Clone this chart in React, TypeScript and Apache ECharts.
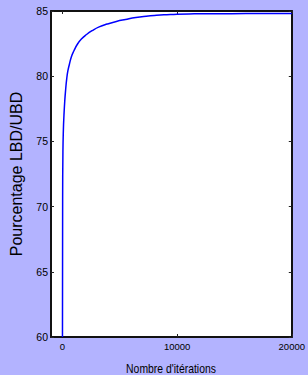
import React, { useEffect, useRef } from "react";
import * as echarts from "echarts";

const iterations = [0, 15, 40, 80, 130, 200, 280, 370, 470, 600, 780, 1000, 1300, 1650, 2100, 2600, 3200, 3900, 4700, 5500, 6400, 7300, 8200, 9100, 10000, 11500, 13500, 16000, 18000, 20000];
const ratio = [60, 70.5, 74.2, 75.9, 77.0, 78.1, 79.0, 79.8, 80.4, 80.9, 81.5, 81.95, 82.45, 82.85, 83.2, 83.5, 83.78, 84.0, 84.2, 84.35, 84.5, 84.6, 84.67, 84.72, 84.76, 84.78, 84.79, 84.8, 84.8, 84.8];
const xTicks = [0, 10000, 20000];
const yRange = [60, 85];
const xRange = [-1000, 20000];
const xTitle = "Nombre d'itérations";
const yTitle = "Pourcentage LBD/UBD";

const font = '"Liberation Sans", Arial, Helvetica, sans-serif';

export default function App() {
  const ref = useRef<HTMLDivElement>(null);
  useEffect(() => {
    if (!ref.current) return;
    const chart = echarts.init(ref.current, undefined, { renderer: "svg" });
    const data = iterations.map((x, i) => [x, ratio[i]]);
    const axisLine = { show: true, onZero: false, lineStyle: { color: "#111", width: 2 } };
    const tick = { show: true, inside: true, length: 3, lineStyle: { color: "#222", width: 1 } };
    chart.setOption({
      animation: false,
      backgroundColor: "#b3b3ff",
      grid: { left: 48, right: 12, top: 11, bottom: 38, show: true, backgroundColor: "#ffffff", borderWidth: 0 },
      graphic: [
        {
          type: "text",
          x: 171,
          y: 368,
          scaleX: 0.8,
          style: { text: xTitle, fill: "#000", font: `13px ${font}`, align: "center", verticalAlign: "middle" },
        },
      ],
      xAxis: [
        {
          type: "value",
          min: xRange[0],
          max: xRange[1],
          position: "bottom",
          axisLine,
          axisTick: { ...tick, customValues: xTicks },
          axisLabel: { customValues: xTicks, formatter: (v: number) => String(v), color: "#000", fontSize: 9.5, fontFamily: font, margin: 4 },
          splitLine: { show: false },
        },
        {
          type: "value",
          min: xRange[0],
          max: xRange[1],
          position: "top",
          axisLine,
          axisTick: { ...tick, customValues: xTicks },
          axisLabel: { show: false },
          splitLine: { show: false },
        },
      ],
      yAxis: [
        {
          type: "value",
          min: yRange[0],
          max: yRange[1],
          interval: 5,
          position: "left",
          axisLine,
          axisTick: tick,
          axisLabel: { color: "#000", fontSize: 10.5, fontFamily: font, margin: 3 },
          splitLine: { show: false },
          name: yTitle,
          nameLocation: "middle",
          nameGap: 27,
          nameTextStyle: { color: "#000", fontSize: 16, fontFamily: font },
        },
        {
          type: "value",
          min: yRange[0],
          max: yRange[1],
          interval: 5,
          position: "right",
          axisLine,
          axisTick: tick,
          axisLabel: { show: false },
          splitLine: { show: false },
        },
      ],
      series: [
        {
          type: "line",
          xAxisIndex: 0,
          yAxisIndex: 0,
          data,
          smooth: true,
          showSymbol: false,
          lineStyle: { color: "#0000ff", width: 1.5 },
        },
      ],
    });
    return () => chart.dispose();
  }, []);
  return <div ref={ref} style={{ position: "absolute", left: 0, top: 0, width: 308, height: 375 }} />;
}
